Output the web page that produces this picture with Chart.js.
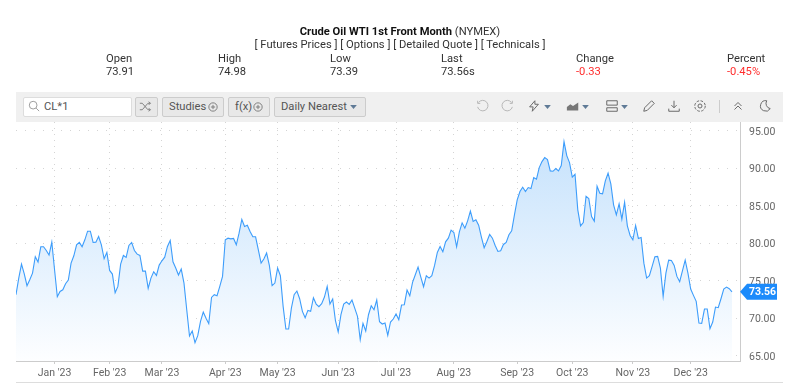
<!DOCTYPE html>
<html>
<head>
<meta charset="utf-8">
<script src="https://cdn.jsdelivr.net/npm/chart.js@4"></script>
<style>
    html, body { margin: 0; padding: 0; background: #fff; width: 800px; height: 383px; overflow: hidden; }
    body { position: relative; font-family: Roboto, sans-serif; font-size: 11.2px; color: #333; }
    canvas { position: absolute; left: 0; top: 0; }
    .t { position: absolute; white-space: nowrap; line-height: 14px; }
    .c { left: 0; width: 800px; text-align: center; }
    .red { color: #ff2d2d; }
    #bar { position: absolute; left: 16px; top: 92px; width: 767px; height: 30px; background: #f0f0f0; }
    #foot { position: absolute; left: 16px; top: 382px; width: 767px; height: 1px; background: #ddd; }
    .btn { position: absolute; top: 97px; height: 20px; box-sizing: border-box; background: #e8e8e8; border: 1px solid #ccc; border-radius: 2px; line-height: 18px; color: #555; white-space: nowrap; }
    .icon { position: absolute; top: 99px; width: 14px; height: 14px; fill: none; stroke: #666; stroke-width: 1.1; }
    .off { stroke: #b5b5b5; }
    .caret { fill: #5f7a96; stroke: none; }
</style>
</head>
<body>
<canvas id="oilchart" width="800" height="383"></canvas>

<div class="t c" style="top:25px"><b style="color:#111">Crude Oil WTI 1st Front Month</b> (NYMEX)</div>
<div class="t c" style="top:38px">[ Futures Prices ] [ Options ] [ Detailed Quote ] [ Technicals ]</div>
<div class="t" style="left:106px;top:52px">Open</div><div class="t" style="left:106px;top:65px">73.91</div>
<div class="t" style="left:218px;top:52px">High</div><div class="t" style="left:218px;top:65px">74.98</div>
<div class="t" style="left:330px;top:52px">Low</div><div class="t" style="left:330px;top:65px">73.39</div>
<div class="t" style="left:441px;top:52px">Last</div><div class="t" style="left:441px;top:65px">73.56s</div>
<div class="t" style="left:576px;top:52px">Change</div><div class="t red" style="left:576px;top:65px">-0.33</div>
<div class="t" style="left:727px;top:52px">Percent</div><div class="t red" style="left:727px;top:65px">-0.45%</div>

<div id="bar"></div>
<div id="foot"></div>
<div class="btn" style="left:23px;width:109px;background:#fff;border-color:#ddd;padding-left:20px">CL*1</div>
<svg class="icon" style="left:28px;width:12px;height:12px;top:100px;stroke:#999" viewBox="0 0 14 14"><circle cx="6" cy="6" r="4.5"/><path d="M9.5 9.5l3.5 3.5"/></svg>
<div class="btn" style="left:135px;width:23px"></div>
<svg class="icon" style="left:139px;top:100px;width:13px;height:13px;stroke:#777" viewBox="0 0 16 16"><path d="M1 4h3l7 8h3M1 12h3l7-8h3M12 2l2 2-2 2M12 10l2 2-2 2"/></svg>
<div class="btn" style="left:162px;width:62px;padding-left:6px">Studies</div>
<svg class="icon" style="left:208px;width:10px;height:10px;top:102px;stroke:#777" viewBox="0 0 12 12"><circle cx="6" cy="6" r="5"/><path d="M3.5 6h5M6 3.5v5"/></svg>
<div class="btn" style="left:228px;width:42px;padding-left:6px">f(x)</div>
<svg class="icon" style="left:253px;width:10px;height:10px;top:102px;stroke:#777" viewBox="0 0 12 12"><circle cx="6" cy="6" r="5"/><path d="M3.5 6h5M6 3.5v5"/></svg>
<div class="btn" style="left:274px;width:92px;padding-left:6px">Daily Nearest</div>
<svg class="icon caret" style="left:350px;width:7px;height:4px;top:105px" viewBox="0 0 10 6"><path d="M0 0h10L5 6z"/></svg>

<svg class="icon off" style="left:475px" viewBox="0 0 16 16"><path d="M4 4a6 6 0 1 1-1 5M3 2v3h3"/></svg>
<svg class="icon off" style="left:501px" viewBox="0 0 16 16"><path d="M12 4a6 6 0 1 0 1 5M13 2v3h-3"/></svg>
<svg class="icon" style="left:527px" viewBox="0 0 16 16"><path d="M9 2L3 9h4l-1 5 7-8H9z"/></svg>
<svg class="icon caret" style="left:544px;width:7px;height:4px;top:105px" viewBox="0 0 10 6"><path d="M0 0h10L5 6z"/></svg>
<svg class="icon" style="left:566px;fill:#777;stroke:none" viewBox="0 0 16 16"><path d="M1 13V9l4-3 3 2 6-4v9z"/></svg>
<svg class="icon caret" style="left:582px;width:7px;height:4px;top:105px" viewBox="0 0 10 6"><path d="M0 0h10L5 6z"/></svg>
<svg class="icon" style="left:605px" viewBox="0 0 16 16"><path d="M2 2h12v5H2zM2 10h12v4H2z"/></svg>
<svg class="icon caret" style="left:621px;width:7px;height:4px;top:105px" viewBox="0 0 10 6"><path d="M0 0h10L5 6z"/></svg>
<svg class="icon" style="left:642px" viewBox="0 0 16 16"><path d="M2 14l1-4 8-8 3 3-8 8z"/></svg>
<svg class="icon" style="left:667px" viewBox="0 0 16 16"><path d="M8 2v8M5 7l3 3 3-3M2 11v3h12v-3"/></svg>
<svg class="icon" style="left:693px" viewBox="0 0 16 16"><circle cx="8" cy="8" r="2.3"/><circle cx="8" cy="8" r="6" stroke-dasharray="3 1.7"/></svg>
<div style="position:absolute;left:719px;top:100px;width:1px;height:13px;background:#ccc"></div>
<svg class="icon" style="left:731px" viewBox="0 0 16 16"><path d="M4 8l4-4 4 4M4 12l4-4 4 4"/></svg>
<svg class="icon" style="left:758px" viewBox="0 0 16 16"><path d="M10 2a6 6 0 1 0 4 9 6 6 0 0 1-4-9z"/></svg>

<script>
// closing prices, one per session
const closes = [
    73.17, 75.39, 77.25, 75.96, 74.37, 75.16, 76.05, 78.23, 77.52, 79.56, 79.56, 79.07, 78.45, 80.18, 76.5, 72.9,
    73.61, 73.83, 74.63, 75.12, 77.38, 78.36, 79.82, 80.14, 79.56, 80.49, 81.64, 81.64, 80.14, 80.18, 80.93, 79.82,
    77.96, 78.8, 76.41, 75.92, 73.43, 74.28, 77.25, 78.4, 78.14, 79.74, 80.14, 79.07, 78.58, 78.4, 76.32, 76.32,
    74.01, 75.39, 76.23, 75.74, 77.12, 77.69, 78.18, 79.6, 80.4, 77.56, 76.72, 75.79, 76.58, 74.72, 71.17, 67.66,
    68.33, 66.78, 67.71, 69.62, 70.86, 70.02, 69.31, 72.81, 73.17, 73.03, 74.28, 75.61, 80.49, 80.71, 80.62, 80.67,
    79.82, 81.38, 83.2, 82.27, 82.44, 81.6,
    80.89, 80.89, 79.16, 77.38, 77.92, 78.72, 77.07, 74.37, 74.72, 76.72, 75.7, 71.61, 68.6, 68.6, 71.39, 73.17,
    73.66, 72.63, 70.95, 70.1, 71.08, 70.95, 72.77, 71.92, 71.57, 71.97, 72.86, 74.28, 71.92, 72.59, 69.7, 68.2,
    70.5, 71.92, 72.19, 71.88, 72.46, 71.39, 70.28, 67.17, 69.35, 68.33, 70.5, 71.7, 71.17, 72.46, 69.57, 69.26,
    69.39, 67.75, 69.53, 69.93, 70.59, 69.84, 71.79, 71.84, 73.79, 73.03, 74.81, 75.83, 76.85, 75.52, 74.23, 75.7,
    75.39, 75.7, 77.07, 78.8, 79.6, 78.89, 80.22, 80.71, 81.78, 81.47, 79.56, 81.56, 82.75, 82.04, 83.02, 84.31,
    82.93, 83.15, 82.44, 80.85, 79.43, 80.27, 81.2, 80.71, 79.74, 78.94, 79.03,
    79.87, 80.14, 81.16, 81.69, 83.82, 85.82, 86.93, 87.5, 86.93, 87.46, 87.33, 88.79, 88.57, 90.12, 90.92, 91.45,
    91.19, 89.68, 89.63, 89.99, 89.68, 90.39, 93.58, 91.72, 90.79, 88.84, 89.23, 84.49, 82.35, 82.8, 86.3, 85.99,
    83.6, 82.98, 87.64, 86.7, 86.62, 88.35, 89.37, 87.95, 85.15, 83.82, 85.28, 83.24, 85.51, 82.35, 81.07, 80.49,
    82.4, 80.67, 80.8, 77.38, 75.39, 75.7, 76.94, 78.23, 78.27, 76.72, 72.95, 76.05, 77.78, 77.74, 77.07, 75.61,
    74.9, 76.36, 77.78, 76.05, 73.92, 73.08, 72.28, 69.39, 69.35, 71.26, 71.26, 68.64, 69.53, 71.52, 71.44, 72.63,
    73.92, 74.19, 73.97, 73.56,
];
const monthLabels = ["Jan '23", "Feb '23", "Mar '23", "Apr '23", "May '23", "Jun '23", "Jul '23", "Aug '23", "Sep '23", "Oct '23", "Nov '23", "Dec '23"];
const monthSessions = [14, 34, 53, 76, 95, 117, 138, 159, 182, 202, 224, 245];
const priceTicks = [65, 70, 75, 80, 85, 90, 95];
const lastPrice = 73.56;

const sessions = closes.map((c, i) => i);

// little blue price tag on the right axis
const priceTag = {
    id: "priceTag",
    afterDraw(chart) {
        const ctx = chart.ctx;
        const y = chart.scales.y.getPixelForValue(lastPrice);
        ctx.save();
        ctx.fillStyle = "#1c8bfb";
        ctx.beginPath();
        ctx.moveTo(740, y);
        ctx.lineTo(747, y - 8);
        ctx.lineTo(777, y - 8);
        ctx.lineTo(777, y + 8);
        ctx.lineTo(747, y + 8);
        ctx.closePath();
        ctx.fill();
        ctx.fillStyle = "#fff";
        ctx.font = "bold 10.5px Roboto";
        ctx.textBaseline = "middle";
        ctx.fillText(lastPrice.toFixed(2), 749, y + 0.5);
        ctx.restore();
    },
};

const ctx = document.getElementById("oilchart").getContext("2d");

const chart = new Chart(ctx, {
    type: "line",
    data: {
        labels: sessions,
        datasets: [
            {
                data: closes.map((c, i) => ({ x: i, y: c })),
                borderColor: "#3d9dfb",
                borderWidth: 1.1,
                pointRadius: 0,
                tension: 0,
                fill: "start",
                backgroundColor(context) {
                    const area = context.chart.chartArea;
                    if (!area) return "rgba(0,0,0,0)";
                    const g = context.chart.ctx.createLinearGradient(0, 141, 0, area.bottom);
                    g.addColorStop(0, "rgb(198,226,252)");
                    g.addColorStop(1, "rgb(253,254,255)");
                    return g;
                },
            },
        ],
    },
    options: {
        responsive: false,
        animation: false,
        layout: { padding: { left: 16, top: 122, right: 0, bottom: 0 } },
        plugins: { legend: { display: false }, tooltip: { enabled: false } },
        scales: {
            x: {
                type: "linear",
                min: 0,
                max: (closes.length - 1) * (724 / 716),
                afterBuildTicks(axis) {
                    axis.ticks = monthSessions.map((v) => ({ value: v }));
                },
                afterFit(axis) {
                    axis.height = 22;
                },
                grid: { color: "#d4d4d4", tickLength: 3, tickColor: "#ccc" },
                border: { color: "#ccc", dash: [1, 5] },
                ticks: {
                    autoSkip: false,
                    maxRotation: 0,
                    color: "#666",
                    padding: 3,
                    font: { family: "Roboto", size: 10.5 },
                    callback(value) {
                        return monthLabels[monthSessions.indexOf(value)];
                    },
                },
            },
            y: {
                position: "right",
                min: 64.33,
                max: 96.2,
                afterBuildTicks(axis) {
                    axis.ticks = priceTicks.map((v) => ({ value: v }));
                },
                afterFit(axis) {
                    axis.width = 60;
                },
                grid: { color: "#d4d4d4", tickLength: 0 },
                border: { color: "#ccc", dash: [1, 8] },
                ticks: {
                    color: "#666",
                    padding: 9,
                    labelOffset: 1,
                    font: { family: "Roboto", size: 10.5 },
                    callback(value) {
                        return value.toFixed(2);
                    },
                },
            },
        },
    },
    plugins: [priceTag],
});
</script>
</body>
</html>
